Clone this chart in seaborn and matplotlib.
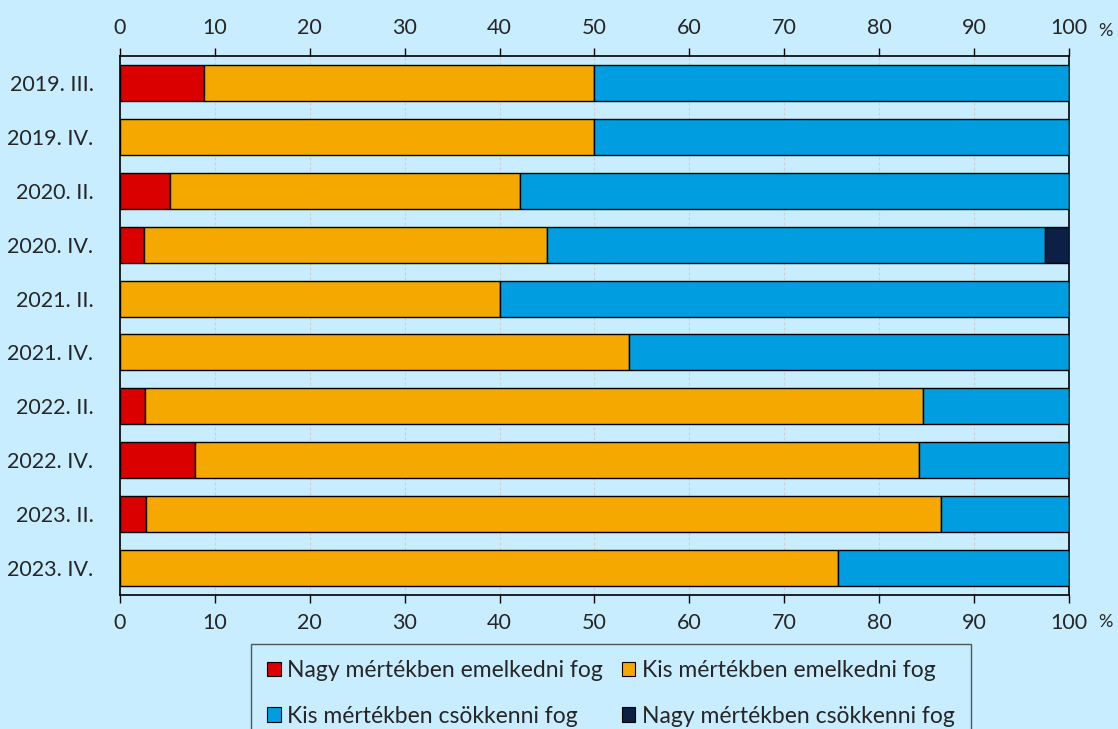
import matplotlib
matplotlib.use("Agg")
import matplotlib.pyplot as plt
from matplotlib.patches import Patch
import numpy as np
import pandas as pd
import seaborn as sns

periods = ['2019. III.', '2019. IV.', '2020. II.', '2020. IV.', '2021. II.',
           '2021. IV.', '2022. II.', '2022. IV.', '2023. II.', '2023. IV.']
nagy_emel = [8.9, 0.0, 5.3, 2.5, 0.0, 0.0, 2.6, 7.9, 2.7, 0.0]
kis_emel = [41.1, 50.0, 36.8, 42.5, 40.0, 53.6, 82.0, 76.3, 83.8, 75.7]
kis_csokk = [50.0, 50.0, 57.9, 52.5, 60.0, 46.4, 15.4, 15.8, 13.5, 24.3]
nagy_csokk = [0.0, 0.0, 0.0, 2.5, 0.0, 0.0, 0.0, 0.0, 0.0, 0.0]

series_names = ['Nagy mértékben emelkedni fog', 'Kis mértékben emelkedni fog',
                'Kis mértékben csökkenni fog', 'Nagy mértékben csökkenni fog']
colors = ['#DA0000', '#F5A800', '#009EE0', '#0C1F45']
bg = '#C8EDFE'

sns.set_theme(style='white')
plt.rcParams['font.family'] = ['Lato', 'DejaVu Sans']

fig = plt.figure(figsize=(11.18, 7.29), dpi=100, facecolor=bg)
ax = fig.add_axes([0.1073, 0.1838, 0.8489, 0.7394])
ax.set_facecolor(bg)

# stacked horizontal bars, one seaborn call per series
values = [nagy_emel, kis_emel, kis_csokk, nagy_csokk]
left = np.zeros(len(periods))
for name, vals, col in zip(series_names, values, colors):
    df = pd.DataFrame({'period': periods, 'value': vals})
    sns.barplot(data=df, x='value', y='period', orient='h', color=col,
                left=left.copy(), width=0.667, edgecolor='black', linewidth=1.0,
                saturation=1, ax=ax, zorder=3)
    left += np.array(vals)

ax.set_xlim(0, 100)
ax.set_ylim(9.5, -0.5)
ax.set_xticks(range(0, 101, 10))
ax.xaxis.grid(True, linestyle=(0, (2.5, 2)), color='#CFCFCF', linewidth=0.8, zorder=0)
ax.yaxis.grid(False)
ax.set_axisbelow(True)
ax.tick_params(axis='x', which='both', top=True, bottom=True, labeltop=True,
               labelbottom=True, direction='out', length=6, width=1,
               color='black', labelsize=15.5, pad=7)
ax.tick_params(axis='y', left=False, labelsize=15.5, pad=13)
ax.set_xlabel('')
ax.set_ylabel('')
for s in ax.spines.values():
    s.set_visible(True)
    s.set_color('black')
    s.set_linewidth(1.2)

fig.text(0.989, 0.957, '%', fontsize=13, ha='center', va='center')
fig.text(0.989, 0.147, '%', fontsize=13, ha='center', va='center')

handles = [Patch(facecolor=c, edgecolor='black', linewidth=0.8) for c in colors]
order = [0, 2, 1, 3]
leg = fig.legend([handles[i] for i in order], [series_names[i] for i in order],
                 ncol=2, loc='upper center', bbox_to_anchor=(0.5465, 0.1166),
                 fontsize=16.5, frameon=True, fancybox=False, edgecolor='#333333',
                 facecolor=bg, handlelength=0.6, handleheight=0.6,
                 handletextpad=0.3, columnspacing=0.8, labelspacing=1.07,
                 borderpad=0.7, borderaxespad=0)
leg.get_frame().set_linewidth(1.0)

fig.savefig('out.png', dpi=100, facecolor=bg)
